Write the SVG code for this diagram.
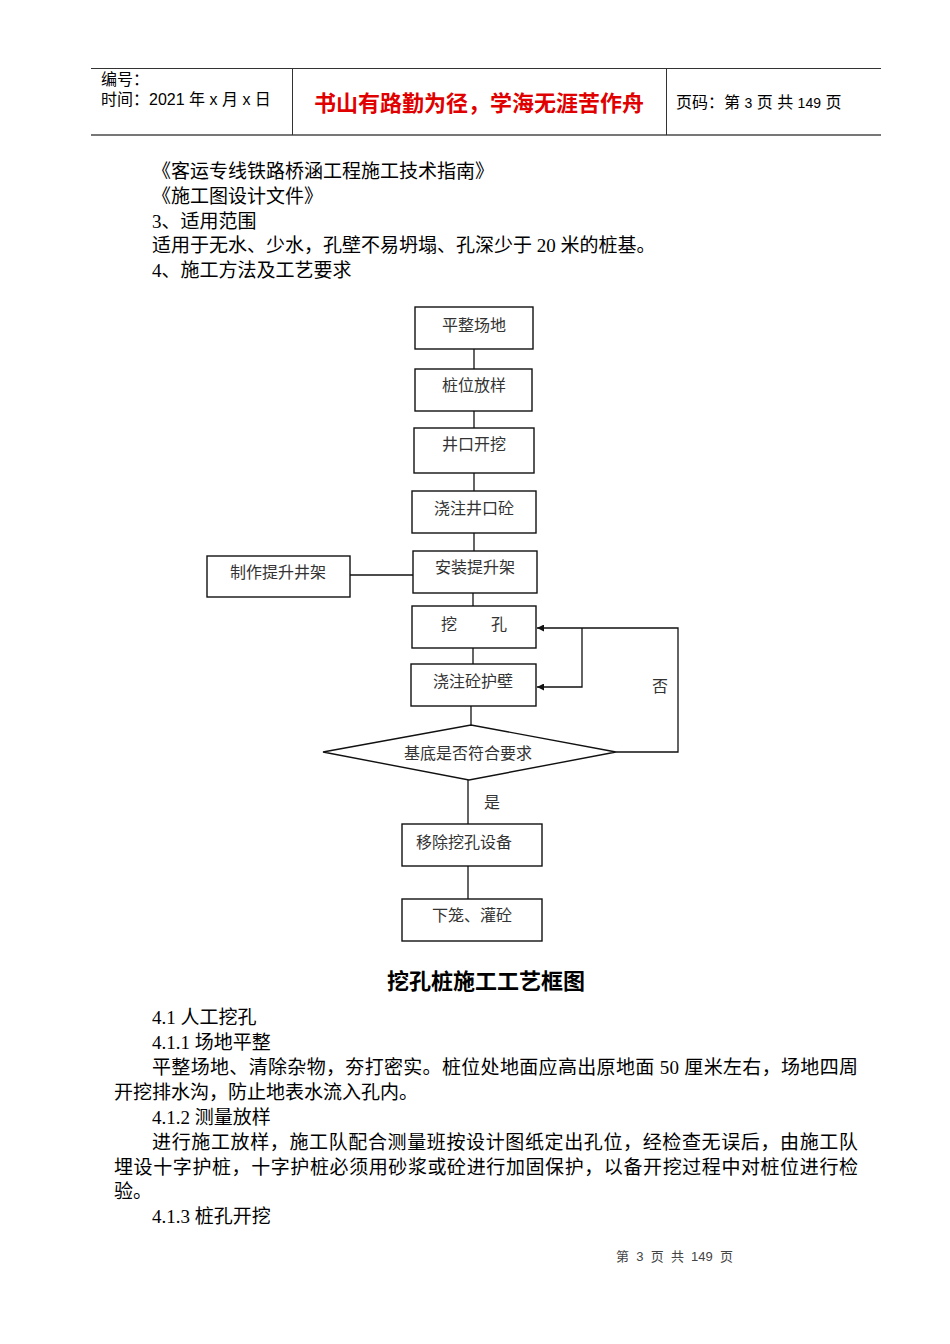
<svg xmlns="http://www.w3.org/2000/svg" width="950" height="1344" viewBox="0 0 950 1344">
<style>
.hd{font-family:"Liberation Sans","Noto Sans CJK SC",sans-serif;font-size:16px;fill:#000}
.red{font-family:"Liberation Sans","Noto Sans CJK SC",sans-serif;font-size:22px;font-weight:bold;fill:#e00000}
.body{font-family:"Liberation Serif","Noto Sans CJK SC",serif;font-size:19px;fill:#000}
.title{font-family:"Liberation Sans","Noto Sans CJK SC",sans-serif;font-size:22px;font-weight:bold;fill:#000}
.foot{font-family:"Liberation Sans","Noto Sans CJK SC",sans-serif;font-size:13px;fill:#444;white-space:pre}
.box{fill:#fff;stroke:#111;stroke-width:1.4}
.lbl{font-family:"Liberation Serif","Noto Sans CJK SC",serif;font-size:16px;fill:#333;text-anchor:middle}
.con{fill:none;stroke:#111;stroke-width:1.3}
</style>
<defs>
<marker id="arr" viewBox="0 0 10 10" refX="10" refY="5" markerWidth="7" markerHeight="7" orient="auto" markerUnits="userSpaceOnUse">
<path d="M0,0 L10,5 L0,10 z" fill="#111"/>
</marker>
</defs>
<rect width="950" height="1344" fill="#fff"/>

<g id="header">
<line x1="91" y1="68.5" x2="881" y2="68.5" stroke="#333" stroke-width="1"/>
<line x1="91" y1="135" x2="881" y2="135" stroke="#777" stroke-width="2"/>
<line x1="292.5" y1="68" x2="292.5" y2="135" stroke="#333" stroke-width="1"/>
<line x1="666.5" y1="68" x2="666.5" y2="135" stroke="#333" stroke-width="1"/>
<text class="hd" x="101" y="85">编号：</text>
<text class="hd" x="101" y="105">时间：2021 年 x 月 x 日</text>
<text class="red" x="479" y="111" text-anchor="middle">书山有路勤为径，学海无涯苦作舟</text>
<text class="hd" x="676" y="108">页码：第 <tspan font-size="14">3</tspan> 页  共 <tspan font-size="14">149</tspan> 页</text>
</g>

<g id="intro">
<text class="body" x="152" y="178">《客运专线铁路桥涵工程施工技术指南》</text>
<text class="body" x="152" y="203">《施工图设计文件》</text>
<text class="body" x="152" y="228">3、适用范围</text>
<text class="body" x="152" y="252">适用于无水、少水，孔壁不易坍塌、孔深少于 20 米的桩基。</text>
<text class="body" x="152" y="277">4、施工方法及工艺要求</text>
</g>

<g id="connectors">
<line class="con" x1="474" y1="349" x2="474" y2="369"/>
<line class="con" x1="474" y1="411" x2="474" y2="428"/>
<line class="con" x1="474" y1="473" x2="474" y2="491"/>
<line class="con" x1="474" y1="533" x2="474" y2="551"/>
<line class="con" x1="350" y1="575" x2="413" y2="575"/>
<line class="con" x1="473" y1="593" x2="473" y2="606"/>
<line class="con" x1="473" y1="648" x2="473" y2="664"/>
<line class="con" x1="471" y1="706" x2="471" y2="725"/>
<polyline class="con" points="616,752 678,752 678,628 537,628" marker-end="url(#arr)"/>
<polyline class="con" points="582,628 582,687 537,687" marker-end="url(#arr)"/>
<line class="con" x1="468" y1="780" x2="468" y2="824"/>
<line class="con" x1="468" y1="866" x2="468" y2="899"/>
<text class="lbl" x="660" y="692">否</text>
<text class="lbl" x="492" y="808">是</text>
</g>

<g id="n1"><rect class="box" x="415" y="307" width="118" height="42"/><text class="lbl" x="474" y="331">平整场地</text></g>
<g id="n2"><rect class="box" x="415" y="369" width="117" height="42"/><text class="lbl" x="474" y="391">桩位放样</text></g>
<g id="n3"><rect class="box" x="414" y="428" width="120" height="45"/><text class="lbl" x="474" y="450">井口开挖</text></g>
<g id="n4"><rect class="box" x="412" y="491" width="124" height="42"/><text class="lbl" x="474" y="514">浇注井口砼</text></g>
<g id="n5"><rect class="box" x="413" y="551" width="124" height="42"/><text class="lbl" x="475" y="573">安装提升架</text></g>
<g id="n6"><rect class="box" x="207" y="556" width="143" height="41"/><text class="lbl" x="278" y="578">制作提升井架</text></g>
<g id="n7"><rect class="box" x="412" y="606" width="124" height="42"/><text class="lbl" x="449" y="630">挖</text><text class="lbl" x="499" y="630">孔</text></g>
<g id="n8"><rect class="box" x="411" y="664" width="125" height="42"/><text class="lbl" x="473" y="687">浇注砼护壁</text></g>
<g id="n9"><polygon class="box" points="323,752 471,725 616,752 469,780"/><text class="lbl" x="468" y="759">基底是否符合要求</text></g>
<g id="n10"><rect class="box" x="402" y="824" width="140" height="42"/><text class="lbl" x="464" y="848">移除挖孔设备</text></g>
<g id="n11"><rect class="box" x="402" y="899" width="140" height="42"/><text class="lbl" x="472" y="921">下笼、灌砼</text></g>

<g id="content">
<text class="title" x="486" y="989" text-anchor="middle">挖孔桩施工工艺框图</text>
<text class="body" x="152" y="1024">4.1 人工挖孔</text>
<text class="body" x="152" y="1049">4.1.1 场地平整</text>
<text class="body" x="152" y="1074" textLength="706" lengthAdjust="spacing">平整场地、清除杂物，夯打密实。桩位处地面应高出原地面 50 厘米左右，场地四周</text>
<text class="body" x="114" y="1099">开挖排水沟，防止地表水流入孔内。</text>
<text class="body" x="152" y="1124">4.1.2 测量放样</text>
<text class="body" x="152" y="1149" textLength="706" lengthAdjust="spacing">进行施工放样，施工队配合测量班按设计图纸定出孔位，经检查无误后，由施工队</text>
<text class="body" x="114" y="1174" textLength="744" lengthAdjust="spacing">埋设十字护桩，十字护桩必须用砂浆或砼进行加固保护，以备开挖过程中对桩位进行检</text>
<text class="body" x="114" y="1198">验。</text>
<text class="body" x="152" y="1223">4.1.3 桩孔开挖</text>
</g>

<g id="footer">
<text class="foot" x="616" y="1261" xml:space="preserve">第  3  页  共  149  页</text>
</g>
</svg>
